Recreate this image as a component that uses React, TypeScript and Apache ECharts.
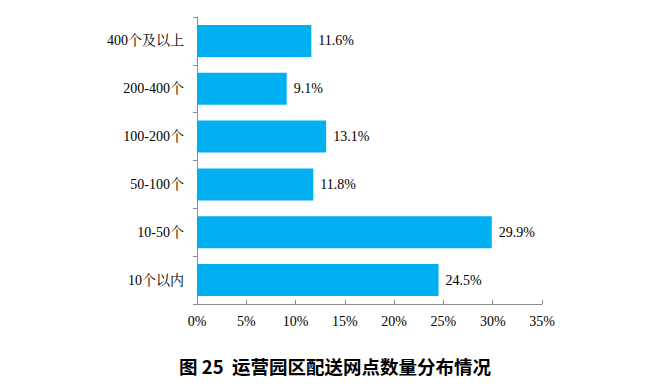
import React, { useEffect, useRef } from "react";
import * as echarts from "echarts";

const categories = ["10个以内", "10-50个", "50-100个", "100-200个", "200-400个", "400个及以上"];
const values = [24.5, 29.9, 11.8, 13.1, 9.1, 11.6];
const xTicks = [0, 5, 10, 15, 20, 25, 30, 35];
const title = "图 25  运营园区配送网点数量分布情况";

export default function App() {
  const ref = useRef<HTMLDivElement>(null);
  useEffect(() => {
    const chart = echarts.init(ref.current!, null, { renderer: "svg" });
    const serif = "'Liberation Serif', 'Noto Serif CJK SC', 'Noto Sans CJK SC', serif";
    chart.setOption({
      animation: false,
      backgroundColor: "#fff",
      title: {
        text: title,
        left: 330,
        textAlign: "center",
        top: 352,
        textStyle: { fontFamily: "'Noto Sans CJK SC', sans-serif", fontWeight: "bold", fontSize: 18.5, color: "#000" },
      },
      grid: { left: 197, right: 118, top: 17, bottom: 85, containLabel: false },
      xAxis: {
        type: "value",
        min: 0,
        max: 35,
        interval: 5,
        axisLine: { show: true, lineStyle: { color: "#8c8c8c" } },
        axisTick: { show: true, inside: true, length: 4, lineStyle: { color: "#8c8c8c" } },
        splitLine: { show: false },
        axisLabel: {
          margin: 10,
          fontFamily: serif,
          fontSize: 14,
          color: "#000",
          formatter: (v: number) => (xTicks.includes(v) ? v + "%" : ""),
        },
      },
      yAxis: {
        type: "category",
        data: categories,
        axisLine: { show: true, lineStyle: { color: "#8c8c8c" } },
        axisTick: { show: true, length: 4, lineStyle: { color: "#8c8c8c" } },
        axisLabel: { margin: 13, fontFamily: serif, fontSize: 14, color: "#000" },
      },
      series: [
        {
          type: "bar",
          data: values,
          barCategoryGap: "33%",
          itemStyle: { color: "#00B0F0" },
          label: {
            show: true,
            position: "right",
            distance: 7,
            formatter: (p: any) => p.value.toFixed(1) + "%",
            fontFamily: serif,
            fontSize: 14,
            color: "#000",
          },
        },
      ],
    });
    return () => chart.dispose();
  }, []);
  return <div ref={ref} style={{ width: 660, height: 389, position: "absolute", left: 0, top: 0 }} />;
}
